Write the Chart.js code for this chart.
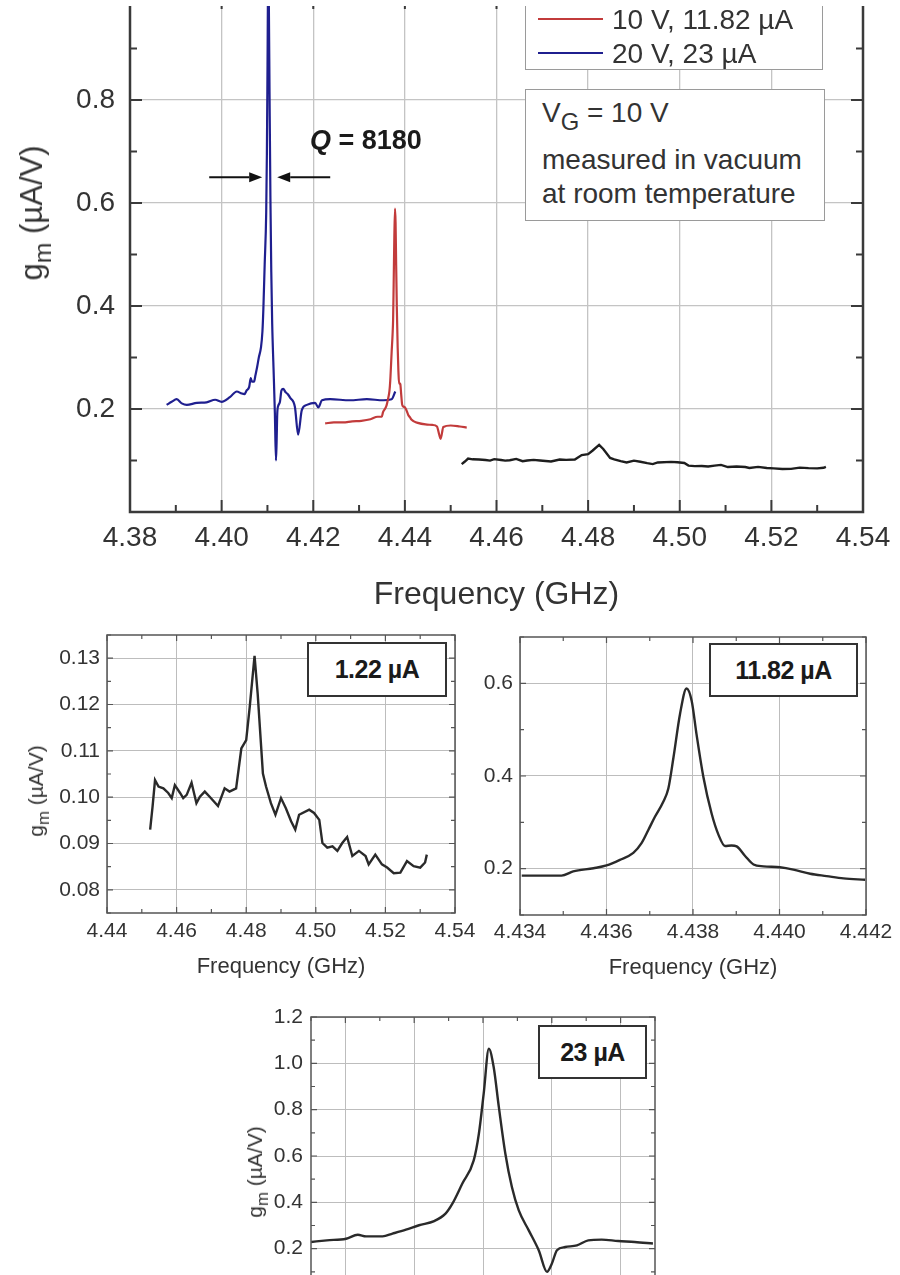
<!DOCTYPE html>
<html lang="en">
<head>
<meta charset="utf-8">
<title>Transconductance vs frequency</title>
<script src="https://cdn.jsdelivr.net/npm/chart.js@4.4.1/dist/chart.umd.min.js"></script>
<style>
  html, body { margin: 0; padding: 0; }
  body {
    position: relative; width: 900px; height: 1275px; overflow: hidden;
    background: #fff; color: #333;
    font-family: "Liberation Sans", Arial, Helvetica, sans-serif;
  }
  .panel { position: absolute; }
  .panel canvas { display: block; }
  .box { position: absolute; box-sizing: border-box; background: #fff; border: 1.5px solid #9a9a9a; }
  .txt { position: absolute; white-space: nowrap; }
  .ytitle { position: absolute; white-space: nowrap; transform: translate(-50%, -50%) rotate(-90deg); }
  .sub { position: relative; top: 0.35em; font-size: 0.8em; }
  .tag {
    position: absolute; box-sizing: border-box; border: 2px solid #333; background: #fff;
    display: flex; align-items: center; justify-content: center;
    font-weight: bold; font-size: 25px; color: #1a1a1a; letter-spacing: -0.5px;
  }
  /* the figure is cropped with a thin white band along its top edge */
  #topBand { position: absolute; left: 0; top: 0; width: 900px; height: 6px; background: #fff; }
</style>
</head>
<body>

<div class="panel" style="left:0;top:-13px"><canvas id="mainChart" width="900" height="640"></canvas></div>
<div class="panel" style="left:0;top:600px"><canvas id="chart122" width="480" height="400"></canvas></div>
<div class="panel" style="left:430px;top:600px"><canvas id="chart1182" width="470" height="400"></canvas></div>
<div class="panel" style="left:200px;top:990px"><canvas id="chart23" width="480" height="400"></canvas></div>

<!-- axis titles with subscripts -->
<div class="ytitle" style="left:32px;top:213px;font-size:31px">g<span class="sub">m</span> (µA/V)</div>
<div class="ytitle" style="left:36px;top:791px;font-size:21px">g<span class="sub">m</span> (µA/V)</div>
<div class="ytitle" style="left:255px;top:1172px;font-size:21px">g<span class="sub">m</span> (µA/V)</div>

<!-- main panel annotations -->
<div class="box" id="legendBox" style="left:525px;top:-40px;width:298px;height:110px"></div>
<div class="box" style="left:525px;top:89px;width:300px;height:132px"></div>
<div class="txt" style="left:542px;top:99px;font-size:28px;line-height:28px">V<span class="sub" style="font-size:0.85em">G</span> = 10 V</div>
<div class="txt" style="left:542px;top:146px;font-size:28px;line-height:28px">measured in vacuum</div>
<div class="txt" style="left:542px;top:180px;font-size:28px;line-height:28px">at room temperature</div>
<div class="txt" style="left:310px;top:127px;font-size:27px;line-height:27px;font-weight:bold;color:#1a1a1a"><i>Q</i> = 8180</div>

<!-- inset labels -->
<div class="tag" style="left:307px;top:642px;width:140px;height:55px">1.22 µA</div>
<div class="tag" style="left:709px;top:643px;width:149px;height:54px">11.82 µA</div>
<div class="tag" style="left:538px;top:1025px;width:109px;height:54px">23 µA</div>

<script>
// ---- values: frequency (GHz) and g_m (µA/V) ----

// 1.22 µA trace (black, also the first inset)
const freq122 = [
  4.4524, 4.4531, 4.4538, 4.4548, 4.4562, 4.4576, 4.4586, 4.4595, 4.4610, 4.4619,
  4.4629, 4.4643, 4.4657, 4.4667, 4.4681, 4.4695, 4.4719, 4.4738, 4.4752, 4.4771,
  4.4786, 4.4800, 4.4810, 4.4824, 4.4833, 4.4848, 4.4857, 4.4871, 4.4884, 4.4900,
  4.4914, 4.4929, 4.4941, 4.4952, 4.4981, 4.4995, 4.5010, 4.5019, 4.5033, 4.5048,
  4.5062, 4.5076, 4.5090, 4.5105, 4.5124, 4.5143, 4.5152, 4.5171, 4.5190, 4.5205,
  4.5224, 4.5243, 4.5262, 4.5281, 4.5300, 4.5314, 4.5319];
const gm122 = [
  0.0930, 0.0980, 0.1037, 0.1023, 0.1019, 0.1009, 0.0998, 0.1026, 0.1009, 0.0998,
  0.1005, 0.1031, 0.0987, 0.1001, 0.1012, 0.1001, 0.0981, 0.1019, 0.1012, 0.1019,
  0.1105, 0.1123, 0.1194, 0.1305, 0.1223, 0.1051, 0.1023, 0.0987, 0.0962, 0.0998,
  0.0976, 0.0948, 0.0930, 0.0962, 0.0973, 0.0966, 0.0951, 0.0901, 0.0891, 0.0894,
  0.0884, 0.0901, 0.0914, 0.0873, 0.0884, 0.0873, 0.0855, 0.0876, 0.0855, 0.0848,
  0.0836, 0.0837, 0.0862, 0.0851, 0.0848, 0.0859, 0.0876];

// 11.82 µA trace (red): peak region shown in the second inset, plus the wings
const freq1182Low = [4.4226, 4.4245, 4.4265, 4.4285, 4.4305, 4.4325];
const gm1182Low = [0.172, 0.174, 0.174, 0.176, 0.177, 0.180];
const freq1182 = [
  4.43404, 4.43446, 4.43496, 4.43523, 4.43570, 4.43600, 4.43631, 4.43662, 4.43681, 4.43697,
  4.43712, 4.43731, 4.43743, 4.43755, 4.43770, 4.43785, 4.43797, 4.43808, 4.43824, 4.43843,
  4.43859, 4.43874, 4.43889, 4.43901, 4.43920, 4.43940, 4.43963, 4.44001, 4.44032, 4.44071,
  4.44109, 4.44148, 4.44198];
const gm1182 = [
  0.185, 0.185, 0.185, 0.194, 0.201, 0.207, 0.219, 0.234, 0.255, 0.284,
  0.312, 0.344, 0.373, 0.441, 0.534, 0.589, 0.562, 0.491, 0.398, 0.319,
  0.273, 0.249, 0.250, 0.248, 0.228, 0.209, 0.205, 0.203, 0.198, 0.189,
  0.184, 0.179, 0.176];
const freq1182High = [4.4428, 4.4445, 4.4460, 4.4470, 4.4475, 4.4478, 4.4484, 4.4500, 4.4520, 4.4535];
const gm1182High = [0.173, 0.170, 0.169, 0.166, 0.150, 0.142, 0.165, 0.168, 0.166, 0.164];

// 23 µA trace (blue): peak region shown in the third inset, plus the wings
const freq23Low = [4.3880, 4.3891, 4.3902, 4.3913, 4.3924, 4.3946, 4.3967, 4.3986, 4.4000, 4.4018, 4.4033, 4.4044];
const gm23Low = [0.208, 0.214, 0.219, 0.211, 0.208, 0.212, 0.213, 0.218, 0.214, 0.223, 0.234, 0.230];
const freq23 = [
  4.40500, 4.40546, 4.40602, 4.40636, 4.40660, 4.40708, 4.40737, 4.40776, 4.40814, 4.40858,
  4.40891, 4.40911, 4.40940, 4.40973, 4.40988, 4.41002, 4.41017, 4.41031, 4.41046, 4.41065,
  4.41084, 4.41104, 4.41133, 4.41162, 4.41186, 4.41200, 4.41215, 4.41239, 4.41273, 4.41306,
  4.41345, 4.41393, 4.41441, 4.41494];
const gm23 = [
  0.229, 0.236, 0.243, 0.260, 0.253, 0.253, 0.265, 0.282, 0.301, 0.319,
  0.351, 0.394, 0.481, 0.581, 0.696, 0.869, 1.063, 0.984, 0.812, 0.610,
  0.466, 0.365, 0.279, 0.193, 0.100, 0.135, 0.193, 0.207, 0.214, 0.236,
  0.239, 0.233, 0.229, 0.222];
const freq23High = [4.4160, 4.4167, 4.4175, 4.4186, 4.4204, 4.4211, 4.4219, 4.4237, 4.4280, 4.4317, 4.4353, 4.4371, 4.4379];
const gm23High = [0.204, 0.150, 0.198, 0.208, 0.212, 0.203, 0.217, 0.219, 0.217, 0.219, 0.217, 0.219, 0.234];

// tick values for every axis
const mainFreqTicks = [4.38, 4.40, 4.42, 4.44, 4.46, 4.48, 4.50, 4.52, 4.54];
const mainGmTicks = [0.2, 0.4, 0.6, 0.8, 1.0];
const freqTicks122 = [4.44, 4.46, 4.48, 4.50, 4.52, 4.54];
const gmTicks122 = [0.08, 0.09, 0.10, 0.11, 0.12, 0.13];
const freqTicks1182 = [4.434, 4.436, 4.438, 4.440, 4.442];
const gmTicks1182 = [0.2, 0.4, 0.6];
const freqTicks23 = [4.406, 4.408, 4.410, 4.412, 4.414];
const gmTicks23 = [0.2, 0.4, 0.6, 0.8, 1.0, 1.2];

const qLevel = 0.65; // height of the linewidth arrows

Chart.defaults.font.family = '"Liberation Sans", Arial, Helvetica, sans-serif';
Chart.defaults.color = '#333';

const pts = (xs, ys) => xs.map((x, i) => ({ x: x, y: ys[i] }));

// box frame with inward tick marks (major on tick values, minor halfway)
const frameTicks = {
  id: 'frameTicks',
  afterDatasetsDraw(chart, args, opts) {
    const { ctx, chartArea: a, scales: { x, y } } = chart;
    const marks = (scale) => {
      const vals = scale.ticks.map(t => t.value);
      const step = vals[1] - vals[0];
      const out = vals.map(v => [v, opts.major]);
      for (let k = -40; k < 80; k++) {
        const v = vals[0] + (k + 0.5) * step;
        if (v >= scale.min - 1e-9 && v <= scale.max + 1e-9) out.push([v, opts.minor]);
      }
      return out;
    };
    ctx.save();
    ctx.strokeStyle = opts.color;
    ctx.lineWidth = opts.tickWidth;
    ctx.beginPath();
    marks(x).forEach(([v, len]) => {
      const px = x.getPixelForValue(v);
      ctx.moveTo(px, a.bottom); ctx.lineTo(px, a.bottom - len);
      ctx.moveTo(px, a.top); ctx.lineTo(px, a.top + len);
    });
    marks(y).forEach(([v, len]) => {
      const py = y.getPixelForValue(v);
      ctx.moveTo(a.left, py); ctx.lineTo(a.left + len, py);
      ctx.moveTo(a.right, py); ctx.lineTo(a.right - len, py);
    });
    ctx.stroke();
    ctx.lineWidth = opts.width;
    ctx.strokeRect(a.left, a.top, a.right - a.left, a.bottom - a.top);
    ctx.restore();
  }
};

// two arrows pointing at the 23 µA peak (linewidth -> Q)
const qArrows = {
  id: 'qArrows',
  afterDatasetsDraw(chart, args, opts) {
    const { ctx, scales: { x, y } } = chart;
    const peak = gm23.indexOf(Math.max(...gm23));
    const cx = x.getPixelForValue(freq23[peak]) + 1.5;
    const cy = y.getPixelForValue(opts.level);
    ctx.save();
    ctx.strokeStyle = '#111';
    ctx.fillStyle = '#111';
    ctx.lineWidth = 2;
    [-1, 1].forEach(side => {
      const tip = cx + side * 7.5;
      const base = tip + side * 13;
      const tail = tip + side * 53;
      ctx.beginPath(); ctx.moveTo(tail, cy); ctx.lineTo(base, cy); ctx.stroke();
      ctx.beginPath(); ctx.moveTo(tip, cy); ctx.lineTo(base, cy - 5); ctx.lineTo(base, cy + 5); ctx.closePath(); ctx.fill();
    });
    ctx.restore();
  }
};

const mainStyle = { grid: '#c4c4c4', gridWidth: 1.3, tickFont: 28, titleFont: 32 };
const insetStyle = { grid: '#bdbdbd', gridWidth: 1, tickFont: 21, titleFont: 22 };
const mainFrame = { color: '#3a3a3a', width: 2.5, tickWidth: 2, major: 12, minor: 7 };
const insetFrame = { color: '#555', width: 1.5, tickWidth: 1.2, major: 6, minor: 4 };

function axisOpts(a, horizontal, style) {
  return {
    type: 'linear',
    min: a.min,
    max: a.max,
    afterBuildTicks: s => { s.ticks = a.ticks.map(v => ({ value: v })); },
    afterFit: s => {
      // fixed axis sizes so the plot areas land where the figure has them
      if (horizontal) s.height = a.size; else s.width = a.size;
      s.paddingLeft = s.paddingRight = s.paddingTop = s.paddingBottom = 0;
    },
    grid: { color: style.grid, lineWidth: style.gridWidth, drawTicks: false },
    border: { display: false },
    ticks: {
      autoSkip: false, maxRotation: 0, padding: a.pad,
      font: { size: style.tickFont },
      callback: v => v.toFixed(a.dec)
    },
    title: {
      display: !!a.title, text: a.title || '',
      font: { size: style.titleFont },
      padding: { top: 0, bottom: a.titlePad || 0 }
    }
  };
}

function chartOpts(c) {
  return {
    responsive: false,
    animation: false,
    events: [],
    layout: { padding: c.padding },
    elements: {
      point: { radius: 0 },
      line: { cubicInterpolationMode: 'monotone' }
    },
    plugins: {
      legend: { display: false },
      tooltip: { enabled: false },
      frameTicks: c.frame,
      qArrows: { level: qLevel }
    },
    scales: {
      x: axisOpts(c.x, true, c.style),
      y: axisOpts(c.y, false, c.style)
    }
  };
}

// the 1.22 µA trace is noisy, so draw it with straight segments
const noisy = { cubicInterpolationMode: 'default', tension: 0 };

// main panel
const mainChart = new Chart(document.getElementById('mainChart'), {
  type: 'line',
  data: {
    datasets: [
      { data: pts(freq122, gm122), borderColor: '#1e1e1e', borderWidth: 2.4, ...noisy },
      {
        label: '10 V, 11.82 µA',
        data: pts([...freq1182Low, ...freq1182, ...freq1182High], [...gm1182Low, ...gm1182, ...gm1182High]),
        borderColor: '#c23b3b', borderWidth: 2.2
      },
      {
        label: '20 V, 23 µA',
        data: pts([...freq23Low, ...freq23, ...freq23High], [...gm23Low, ...gm23, ...gm23High]),
        borderColor: '#1f1f8f', borderWidth: 2.2
      }
    ]
  },
  options: chartOpts({
    padding: { top: 10, right: 37, left: 0, bottom: 0 },
    style: mainStyle,
    frame: mainFrame,
    x: { min: 4.38, max: 4.54, ticks: mainFreqTicks, dec: 2, size: 115, pad: 9, title: 'Frequency (GHz)', titlePad: 13 },
    y: { min: 0, max: 1.0, ticks: mainGmTicks, dec: 1, size: 130, pad: 15 }
  }),
  plugins: [frameTicks, qArrows]
});

// insets
const insetLine = { borderColor: '#2a2a2a', borderWidth: 2.4 };

new Chart(document.getElementById('chart122'), {
  type: 'line',
  data: { datasets: [{ data: pts(freq122, gm122), ...insetLine, ...noisy }] },
  options: chartOpts({
    padding: { top: 35, right: 25, left: 0, bottom: 0 },
    style: insetStyle,
    frame: insetFrame,
    x: { min: 4.44, max: 4.54, ticks: freqTicks122, dec: 2, size: 87, pad: 6, title: 'Frequency (GHz)', titlePad: 20 },
    y: { min: 0.075, max: 0.135, ticks: gmTicks122, dec: 2, size: 107, pad: 7 }
  }),
  plugins: [frameTicks]
});

new Chart(document.getElementById('chart1182'), {
  type: 'line',
  data: { datasets: [{ data: pts(freq1182, gm1182), ...insetLine }] },
  options: chartOpts({
    padding: { top: 37, right: 34, left: 0, bottom: 0 },
    style: insetStyle,
    frame: insetFrame,
    x: { min: 4.434, max: 4.442, ticks: freqTicks1182, dec: 3, size: 85, pad: 5, title: 'Frequency (GHz)', titlePad: 19 },
    y: { min: 0.1, max: 0.7, ticks: gmTicks1182, dec: 1, size: 90, pad: 7 }
  }),
  plugins: [frameTicks]
});

new Chart(document.getElementById('chart23'), {
  type: 'line',
  data: { datasets: [{ data: pts(freq23, gm23), ...insetLine }] },
  options: chartOpts({
    padding: { top: 27, right: 25, left: 0, bottom: 0 },
    style: insetStyle,
    frame: insetFrame,
    x: { min: 4.405, max: 4.415, ticks: freqTicks23, dec: 3, size: 95, pad: 5, title: 'Frequency (GHz)', titlePad: 20 },
    y: { min: 0, max: 1.2, ticks: gmTicks23, dec: 1, size: 111, pad: 8 }
  }),
  plugins: [frameTicks]
});

// legend entries inside the box, built from the labelled datasets
const legendTop = 6, legendGap = 34;
mainChart.data.datasets.filter(d => d.label).forEach((d, i) => {
  const top = legendTop + i * legendGap;
  const line = document.createElement('div');
  line.style.cssText = `position:absolute;left:538px;top:${top + 12}px;width:65px;height:2px;background:${d.borderColor}`;
  document.body.appendChild(line);
  const txt = document.createElement('div');
  txt.className = 'txt';
  txt.style.cssText = `left:612px;top:${top}px;font-size:28px;line-height:28px`;
  txt.textContent = d.label;
  document.body.appendChild(txt);
});

// white band goes last so it sits over everything at the top edge
const band = document.createElement('div');
band.id = 'topBand';
document.body.appendChild(band);
</script>
</body>
</html>
